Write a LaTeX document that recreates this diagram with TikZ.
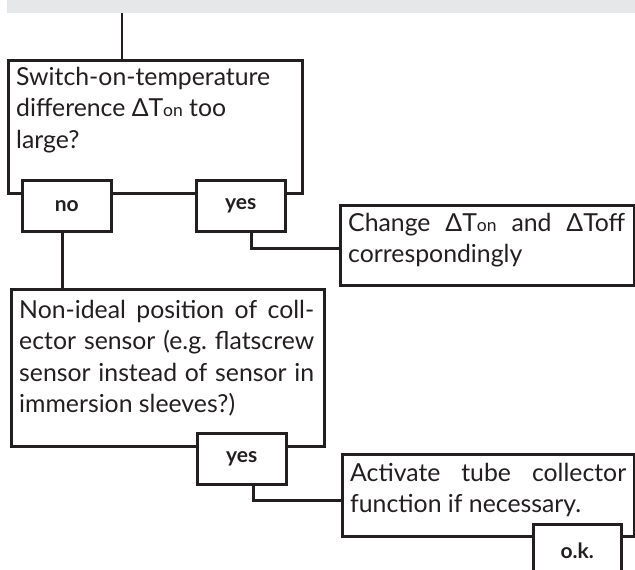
\documentclass[tikz,border=0pt]{standalone}
\usepackage{fontspec}
\setmainfont{Lato}
\definecolor{ink}{HTML}{231F20}
\definecolor{bandgray}{HTML}{E6E7E8}
\newcommand{\sm}[1]{{\fontsize{17.5}{17.5}\selectfont #1}}
\newcommand{\jl}[1]{\makebox[\linewidth][s]{#1}}
\begin{document}
\frenchspacing
\begin{tikzpicture}[x=1pt,y=-1pt,
  box/.style={draw=ink, line width=2.6pt, fill=white, rectangle, inner sep=0pt, anchor=north west},
  lbl/.style={box, font=\fontsize{21}{22}\selectfont\bfseries, text=ink, minimum width=89pt, minimum height=51pt},
  txt/.style={anchor=base west, inner sep=0pt, text=ink, font=\fontsize{24.8}{31.5}\selectfont},
  wire/.style={draw=ink, line width=2.6pt}]
\useasboundingbox (0,0) rectangle (635,570);
\clip (0,0) rectangle (635,570);
% band
\node[fill=bandgray, inner sep=0pt, minimum width=628pt, minimum height=13pt, anchor=north west] (band) at (7,0) {};
% big boxes
\node[box, minimum width=294pt, minimum height=133pt] (q1) at (7,59) {};
\node[box, minimum width=294pt, minimum height=80pt] (a1) at (339,204) {};
\node[box, minimum width=313pt, minimum height=157pt] (q2) at (10,288) {};
\node[box, minimum width=292pt, minimum height=82pt] (a2) at (341,453) {};
% texts
\node[txt] (q1t) at ([shift={(9,26)}]q1.north west) {\parbox[t]{280pt}{Switch-on-temperature\\ difference ΔT\sm{on} too\\ large?}};
\node[txt] (a1t) at ([shift={(9,27)}]a1.north west) {\parbox[t]{277pt}{\jl{Change ΔT\sm{on} and ΔToff}\\ correspondingly}};
\node[txt] (q2t) at ([shift={(9,30)}]q2.north west) {\parbox[t]{295pt}{\jl{Non-ideal position of coll-}\\ \jl{ector sensor (e.g. flatscrew}\\ \jl{sensor instead of sensor in}\\ immersion sleeves?)}};
\node[txt] (a2t) at ([shift={(9,28)}]a2.north west) {\parbox[t]{276pt}{\jl{Activate tube collector}\\ function if necessary.}};
% connectors
\coordinate (c0) at (122,13);
\draw[wire] (c0) -- (c0 |- q1.north);
% labels
\node[lbl] (no) at (21,179) {no};
\node[lbl] (yes1) at (195,179) {yes};
\node[lbl] (yes2) at (196,432) {yes};
\node[lbl, minimum width=88pt, minimum height=52pt] (ok) at (532,523) {o.k.};
\draw[wire] ([xshift=-4.5pt]no.south) -- ([xshift=-4.5pt]no.south |- q2.north);
\draw[wire] ([xshift=10.5pt]yes1.south) |- ([yshift=-3pt]a1.west);
\draw[wire] ([xshift=11.5pt]yes2.south) |- ([yshift=-5pt]a2.west);
\end{tikzpicture}
\end{document}
